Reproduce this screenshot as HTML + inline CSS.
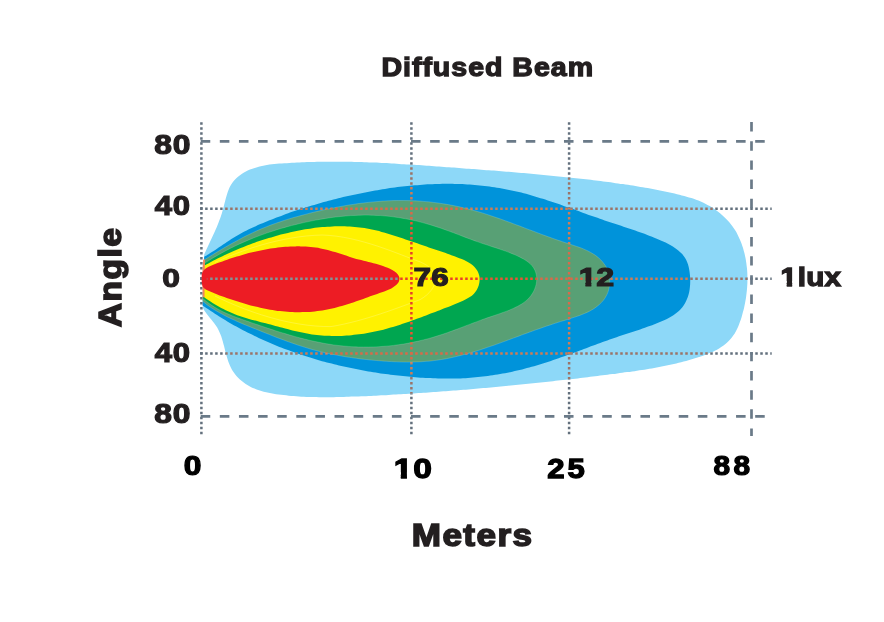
<!DOCTYPE html>
<html lang="en"><head><meta charset="utf-8"><title>Diffused Beam</title>
<style>html,body{margin:0;padding:0;background:#fff}body{width:884px;height:622px;overflow:hidden}svg{display:block}text{font-family:"Liberation Sans",Arial,Helvetica,sans-serif;font-weight:bold;font-size:100px;stroke-linejoin:miter;stroke-miterlimit:2.5}</style>
</head><body>
<svg width="884" height="622" viewBox="0 0 884 622">
<defs>
<clipPath id="k1"><path d="M-20 -120H41V-20H39.3V4H20.95V-20H-20ZM59.5 -120H3000V60H59.5Z"/></clipPath>
<clipPath id="k2"><path d="M-20 -120H41V-20H39.3V4H20.95V-20H-20ZM59.5 -120H3000V60H59.5Z"/></clipPath>
<clipPath id="k3"><path d="M-20 -120H41V-20H39.3V4H20.95V-20H-20ZM55.8 -120H3000V60H55.8Z"/></clipPath>
<path id="s-lb" d="M204.2 254.5C204.5 253.7 205.6 251.4 206.2 249.9C206.9 248.4 207.6 246.9 208.3 245.4C209.0 243.9 209.7 242.4 210.4 240.9C211.1 239.4 211.8 237.9 212.5 236.4C213.2 234.9 213.9 233.4 214.6 231.9C215.2 230.4 215.9 228.9 216.6 227.4C217.2 225.9 217.8 224.4 218.4 222.9C219.0 221.3 219.6 219.8 220.2 218.2C220.7 216.7 221.3 215.1 221.8 213.5C222.3 211.9 222.7 210.3 223.2 208.6C223.6 207.0 224.0 205.3 224.4 203.7C224.9 202.0 225.3 200.4 225.7 198.7C226.1 197.1 226.6 195.5 227.1 193.9C227.6 192.3 228.2 190.7 228.8 189.2C229.4 187.7 230.1 186.3 230.9 184.9C231.7 183.5 232.6 182.2 233.7 180.9C234.7 179.7 235.8 178.5 237.1 177.4C238.3 176.3 239.6 175.3 241.0 174.4C242.4 173.4 243.9 172.6 245.4 171.8C246.9 171.0 248.5 170.3 250.0 169.6C251.6 169.0 253.2 168.4 254.8 167.9C256.3 167.4 258.0 166.9 259.6 166.5C261.2 166.1 262.8 165.8 264.4 165.4C266.1 165.1 267.7 164.9 269.4 164.6C271.0 164.4 272.7 164.2 274.3 164.0C276.0 163.8 277.7 163.7 279.3 163.6C281.0 163.4 282.7 163.3 284.3 163.2C286.0 163.1 287.7 163.0 289.4 162.9C291.0 162.8 292.7 162.8 294.4 162.7C296.0 162.6 297.7 162.5 299.4 162.5C301.0 162.4 302.7 162.3 304.4 162.3C306.0 162.2 307.7 162.1 309.4 162.1C311.0 162.0 312.7 162.0 314.3 162.0C316.0 161.9 317.7 161.9 319.3 161.8C321.0 161.8 322.7 161.8 324.3 161.8C326.0 161.7 327.6 161.7 329.3 161.7C331.0 161.7 332.6 161.7 334.3 161.7C335.9 161.7 337.6 161.7 339.3 161.7C340.9 161.7 342.6 161.7 344.3 161.8C345.9 161.8 347.6 161.8 349.2 161.8C350.9 161.9 352.6 161.9 354.2 161.9C355.9 162.0 357.6 162.0 359.2 162.1C360.9 162.1 362.5 162.2 364.2 162.2C365.9 162.3 367.5 162.3 369.2 162.4C370.9 162.5 372.5 162.5 374.2 162.6C375.9 162.7 377.5 162.7 379.2 162.8C380.8 162.9 382.5 163.0 384.2 163.1C385.8 163.1 387.5 163.2 389.2 163.3C390.8 163.4 392.5 163.5 394.2 163.6C395.8 163.7 397.5 163.8 399.1 163.9C400.8 164.0 402.5 164.1 404.1 164.2C405.8 164.3 407.5 164.4 409.1 164.5C410.8 164.6 412.5 164.7 414.1 164.8C415.8 164.9 417.4 165.0 419.1 165.1C420.8 165.3 422.4 165.4 424.1 165.5C425.8 165.6 427.4 165.7 429.1 165.8C430.8 166.0 432.4 166.1 434.1 166.2C435.7 166.3 437.4 166.4 439.1 166.5C440.7 166.7 442.4 166.8 444.1 166.9C445.7 167.0 447.4 167.2 449.0 167.3C450.7 167.4 452.4 167.5 454.0 167.6C455.7 167.8 457.3 167.9 459.0 168.0C460.7 168.1 462.3 168.2 464.0 168.4C465.6 168.5 467.3 168.6 469.0 168.7C470.6 168.9 472.3 169.0 473.9 169.1C475.6 169.2 477.3 169.4 478.9 169.5C480.6 169.6 482.2 169.7 483.9 169.9C485.6 170.0 487.2 170.1 488.9 170.2C490.5 170.4 492.2 170.5 493.9 170.6C495.5 170.8 497.2 170.9 498.8 171.0C500.5 171.2 502.2 171.3 503.8 171.4C505.5 171.6 507.1 171.7 508.8 171.8C510.4 172.0 512.1 172.1 513.8 172.3C515.4 172.4 517.1 172.5 518.7 172.7C520.4 172.8 522.1 173.0 523.7 173.1C525.4 173.3 527.0 173.4 528.7 173.6C530.3 173.7 532.0 173.8 533.7 174.0C535.3 174.1 537.0 174.3 538.6 174.5C540.3 174.6 541.9 174.8 543.6 174.9C545.2 175.1 546.9 175.2 548.6 175.4C550.2 175.6 551.9 175.7 553.5 175.9C555.2 176.1 556.8 176.2 558.5 176.4C560.2 176.6 561.8 176.7 563.5 176.9C565.1 177.1 566.8 177.2 568.4 177.4C570.1 177.6 571.7 177.8 573.4 178.0C575.1 178.1 576.7 178.3 578.4 178.5C580.0 178.7 581.7 178.9 583.3 179.1C585.0 179.3 586.6 179.4 588.3 179.6C590.0 179.8 591.6 180.0 593.3 180.2C594.9 180.4 596.6 180.6 598.2 180.8C599.9 181.0 601.5 181.2 603.2 181.5C604.8 181.7 606.5 181.9 608.2 182.1C609.8 182.3 611.5 182.5 613.1 182.7C614.8 183.0 616.4 183.2 618.1 183.4C619.7 183.7 621.4 183.9 623.0 184.1C624.7 184.4 626.3 184.6 628.0 184.8C629.6 185.1 631.3 185.3 632.9 185.6C634.6 185.9 636.2 186.1 637.9 186.4C639.5 186.7 641.2 186.9 642.8 187.2C644.5 187.5 646.1 187.8 647.7 188.1C649.4 188.4 651.0 188.7 652.7 189.0C654.3 189.3 655.9 189.6 657.6 189.9C659.2 190.2 660.8 190.6 662.4 190.9C664.1 191.2 665.7 191.6 667.3 191.9C668.9 192.3 670.6 192.7 672.2 193.0C673.8 193.4 675.4 193.8 677.0 194.2C678.6 194.6 680.2 195.0 681.8 195.4C683.4 195.8 685.1 196.2 686.6 196.7C688.2 197.1 689.8 197.6 691.4 198.1C693.0 198.6 694.5 199.2 696.1 199.8C697.6 200.3 699.2 200.9 700.7 201.6C702.2 202.3 703.8 203.0 705.3 203.7C706.8 204.5 708.2 205.3 709.7 206.1C711.1 207.0 712.6 207.9 714.0 208.8C715.4 209.7 716.8 210.7 718.1 211.7C719.4 212.8 720.7 213.8 722.0 214.9C723.3 216.0 724.5 217.2 725.7 218.4C726.9 219.6 728.0 220.8 729.1 222.1C730.2 223.3 731.2 224.6 732.2 226.0C733.2 227.3 734.1 228.7 735.0 230.1C735.9 231.5 736.7 232.9 737.5 234.4C738.2 235.9 738.9 237.4 739.6 238.9C740.3 240.4 740.9 242.0 741.5 243.5C742.1 245.1 742.6 246.7 743.1 248.3C743.5 249.9 744.0 251.5 744.4 253.1C744.8 254.7 745.1 256.3 745.5 258.0C745.8 259.6 746.1 261.2 746.3 262.9C746.5 264.5 746.7 266.1 746.9 267.8C747.1 269.4 747.2 271.1 747.3 272.7C747.4 274.4 747.4 276.1 747.4 277.7C747.4 279.4 747.4 281.0 747.4 282.7C747.3 284.4 747.2 286.0 747.1 287.7C747.0 289.4 746.8 291.0 746.6 292.7C746.4 294.4 746.2 296.0 746.0 297.7C745.7 299.4 745.4 301.0 745.1 302.7C744.8 304.3 744.4 306.0 744.1 307.7C743.7 309.3 743.3 311.0 742.8 312.6C742.4 314.3 742.0 315.9 741.5 317.5C741.0 319.2 740.4 320.8 739.8 322.3C739.3 323.9 738.6 325.5 738.0 327.0C737.3 328.5 736.6 330.0 735.8 331.4C735.0 332.9 734.2 334.2 733.2 335.6C732.3 336.9 731.4 338.1 730.3 339.3C729.3 340.5 728.1 341.6 726.9 342.7C725.8 343.8 724.5 344.8 723.2 345.7C721.9 346.6 720.5 347.5 719.1 348.4C717.7 349.2 716.3 350.0 714.8 350.7C713.3 351.5 711.8 352.2 710.2 352.8C708.7 353.5 707.1 354.1 705.5 354.7C703.9 355.3 702.3 355.9 700.7 356.4C699.1 357.0 697.4 357.5 695.8 358.0C694.2 358.5 692.6 359.0 690.9 359.5C689.3 360.0 687.7 360.4 686.1 360.9C684.4 361.3 682.8 361.7 681.2 362.2C679.5 362.6 677.9 363.0 676.3 363.4C674.7 363.8 673.0 364.1 671.4 364.5C669.8 364.9 668.1 365.2 666.5 365.6C664.9 365.9 663.2 366.2 661.6 366.6C660.0 366.9 658.3 367.2 656.7 367.5C655.1 367.8 653.4 368.1 651.8 368.4C650.1 368.6 648.5 368.9 646.9 369.2C645.2 369.5 643.6 369.7 642.0 370.0C640.3 370.2 638.7 370.5 637.0 370.7C635.4 371.0 633.8 371.2 632.1 371.4C630.5 371.7 628.8 371.9 627.2 372.1C625.5 372.3 623.9 372.6 622.3 372.8C620.6 373.0 619.0 373.2 617.3 373.4C615.7 373.7 614.0 373.9 612.4 374.1C610.7 374.3 609.1 374.5 607.5 374.7C605.8 374.9 604.2 375.1 602.5 375.3C600.9 375.5 599.2 375.7 597.6 376.0C595.9 376.2 594.3 376.4 592.6 376.6C591.0 376.8 589.3 377.0 587.7 377.2C586.0 377.4 584.4 377.6 582.7 377.8C581.1 378.0 579.4 378.2 577.8 378.4C576.1 378.5 574.5 378.7 572.8 378.9C571.2 379.1 569.5 379.3 567.8 379.5C566.2 379.7 564.5 379.9 562.9 380.1C561.2 380.3 559.6 380.5 557.9 380.6C556.3 380.8 554.6 381.0 553.0 381.2C551.3 381.4 549.6 381.6 548.0 381.7C546.3 381.9 544.7 382.1 543.0 382.3C541.4 382.4 539.7 382.6 538.0 382.8C536.4 383.0 534.7 383.1 533.1 383.3C531.4 383.5 529.8 383.7 528.1 383.8C526.4 384.0 524.8 384.2 523.1 384.3C521.5 384.5 519.8 384.7 518.1 384.8C516.5 385.0 514.8 385.2 513.2 385.3C511.5 385.5 509.8 385.6 508.2 385.8C506.5 386.0 504.9 386.1 503.2 386.3C501.5 386.4 499.9 386.6 498.2 386.7C496.6 386.9 494.9 387.1 493.2 387.2C491.6 387.4 489.9 387.5 488.2 387.7C486.6 387.8 484.9 388.0 483.3 388.1C481.6 388.2 479.9 388.4 478.3 388.5C476.6 388.7 475.0 388.8 473.3 389.0C471.6 389.1 470.0 389.2 468.3 389.4C466.6 389.5 465.0 389.6 463.3 389.8C461.7 389.9 460.0 390.1 458.3 390.2C456.7 390.3 455.0 390.4 453.3 390.6C451.7 390.7 450.0 390.8 448.4 391.0C446.7 391.1 445.0 391.2 443.4 391.3C441.7 391.5 440.0 391.6 438.4 391.7C436.7 391.8 435.1 391.9 433.4 392.1C431.7 392.2 430.1 392.3 428.4 392.4C426.7 392.5 425.1 392.6 423.4 392.8C421.8 392.9 420.1 393.0 418.4 393.1C416.8 393.2 415.1 393.3 413.5 393.4C411.8 393.5 410.1 393.6 408.5 393.7C406.8 393.8 405.2 393.9 403.5 394.0C401.8 394.1 400.2 394.2 398.5 394.3C396.8 394.4 395.2 394.5 393.5 394.6C391.9 394.7 390.2 394.8 388.5 394.9C386.9 395.0 385.2 395.1 383.6 395.2C381.9 395.3 380.2 395.3 378.6 395.4C376.9 395.5 375.3 395.6 373.6 395.7C372.0 395.8 370.3 395.9 368.6 395.9C367.0 396.0 365.3 396.1 363.7 396.2C362.0 396.2 360.4 396.3 358.7 396.4C357.0 396.5 355.4 396.5 353.7 396.6C352.1 396.7 350.4 396.7 348.8 396.8C347.1 396.8 345.4 396.9 343.8 396.9C342.1 397.0 340.5 397.0 338.8 397.1C337.1 397.1 335.5 397.1 333.8 397.2C332.2 397.2 330.5 397.2 328.8 397.2C327.2 397.2 325.5 397.2 323.9 397.2C322.2 397.2 320.5 397.2 318.9 397.2C317.2 397.2 315.5 397.1 313.9 397.1C312.2 397.1 310.5 397.0 308.9 396.9C307.2 396.9 305.5 396.8 303.8 396.7C302.2 396.6 300.5 396.6 298.8 396.4C297.1 396.3 295.5 396.2 293.8 396.1C292.1 396.0 290.4 395.8 288.7 395.7C287.1 395.5 285.4 395.3 283.7 395.1C282.0 395.0 280.3 394.8 278.6 394.5C277.0 394.3 275.3 394.1 273.6 393.8C271.9 393.5 270.3 393.2 268.6 392.8C267.0 392.5 265.4 392.1 263.7 391.7C262.1 391.3 260.5 390.8 259.0 390.3C257.4 389.7 255.9 389.2 254.4 388.5C252.9 387.9 251.4 387.2 249.9 386.4C248.5 385.7 247.1 384.8 245.7 383.9C244.4 383.0 243.0 382.1 241.8 381.0C240.5 380.0 239.3 378.9 238.1 377.7C237.0 376.5 235.9 375.3 234.9 374.0C233.9 372.7 233.0 371.3 232.1 369.9C231.3 368.5 230.6 367.0 229.9 365.5C229.2 364.0 228.7 362.5 228.1 360.9C227.6 359.4 227.1 357.8 226.6 356.1C226.2 354.5 225.8 352.9 225.3 351.3C224.9 349.6 224.5 348.0 224.1 346.3C223.7 344.7 223.2 343.0 222.8 341.4C222.3 339.8 221.8 338.2 221.3 336.6C220.7 335.1 220.1 333.5 219.4 332.0C218.8 330.5 218.0 329.0 217.2 327.6C216.3 326.2 215.4 324.9 214.4 323.5C213.4 322.2 212.3 320.9 211.3 319.6C210.3 318.3 209.2 317.0 208.2 315.7C207.1 314.4 206.1 313.0 205.2 311.7C204.3 310.3 203.1 308.1 202.7 307.4Z"/>
<clipPath id="c-lb"><use href="#s-lb"/></clipPath>
<path id="s-bl" d="M204.2 256.8C204.9 256.4 207.1 255.1 208.5 254.3C210.0 253.4 211.4 252.5 212.8 251.6C214.2 250.7 215.6 249.8 217.0 248.8C218.3 247.9 219.7 247.0 221.1 246.1C222.5 245.1 223.8 244.2 225.2 243.3C226.6 242.3 228.0 241.4 229.3 240.5C230.7 239.6 232.1 238.7 233.5 237.8C234.9 236.9 236.3 236.1 237.8 235.2C239.2 234.4 240.7 233.6 242.1 232.8C243.6 232.0 245.1 231.2 246.6 230.5C248.1 229.7 249.6 229.0 251.1 228.3C252.6 227.6 254.2 226.9 255.7 226.2C257.2 225.5 258.7 224.8 260.3 224.1C261.8 223.5 263.4 222.8 264.9 222.2C266.5 221.5 268.0 220.9 269.5 220.3C271.1 219.7 272.6 219.0 274.2 218.4C275.7 217.8 277.3 217.2 278.9 216.7C280.4 216.1 282.0 215.5 283.5 214.9C285.1 214.3 286.7 213.8 288.2 213.2C289.8 212.7 291.3 212.1 292.9 211.6C294.5 211.1 296.1 210.5 297.6 210.0C299.2 209.5 300.8 209.0 302.4 208.5C303.9 208.0 305.5 207.5 307.1 207.0C308.7 206.5 310.3 206.0 311.8 205.6C313.4 205.1 315.0 204.6 316.6 204.2C318.2 203.7 319.8 203.2 321.4 202.8C323.0 202.3 324.6 201.9 326.2 201.5C327.8 201.0 329.4 200.6 331.0 200.2C332.6 199.8 334.2 199.4 335.9 199.0C337.5 198.6 339.1 198.2 340.7 197.8C342.3 197.4 344.0 197.0 345.6 196.6C347.2 196.2 348.8 195.8 350.5 195.5C352.1 195.1 353.7 194.8 355.4 194.4C357.0 194.0 358.6 193.7 360.3 193.4C361.9 193.0 363.5 192.7 365.2 192.4C366.8 192.0 368.5 191.7 370.1 191.4C371.8 191.1 373.4 190.8 375.1 190.5C376.7 190.2 378.4 190.0 380.0 189.7C381.7 189.4 383.3 189.1 385.0 188.9C386.6 188.6 388.3 188.4 389.9 188.1C391.6 187.9 393.3 187.7 394.9 187.5C396.6 187.2 398.2 187.0 399.9 186.8C401.6 186.6 403.2 186.4 404.9 186.2C406.6 186.1 408.2 185.9 409.9 185.7C411.5 185.6 413.2 185.4 414.9 185.3C416.5 185.1 418.2 185.0 419.9 184.9C421.5 184.7 423.2 184.6 424.9 184.5C426.5 184.4 428.2 184.3 429.9 184.3C431.5 184.2 433.2 184.1 434.9 184.0C436.5 184.0 438.2 183.9 439.9 183.9C441.5 183.9 443.2 183.8 444.8 183.8C446.5 183.8 448.2 183.8 449.8 183.8C451.5 183.8 453.2 183.9 454.8 183.9C456.5 183.9 458.1 184.0 459.8 184.1C461.5 184.1 463.1 184.2 464.8 184.3C466.4 184.4 468.1 184.5 469.8 184.6C471.4 184.7 473.1 184.8 474.7 184.9C476.4 185.1 478.0 185.2 479.7 185.4C481.3 185.6 483.0 185.7 484.6 185.9C486.3 186.1 487.9 186.3 489.5 186.5C491.2 186.8 492.8 187.0 494.5 187.2C496.1 187.5 497.7 187.8 499.4 188.0C501.0 188.3 502.6 188.6 504.3 188.9C505.9 189.2 507.5 189.5 509.1 189.9C510.8 190.2 512.4 190.5 514.0 190.9C515.6 191.3 517.2 191.7 518.9 192.0C520.5 192.4 522.1 192.8 523.7 193.3C525.3 193.7 526.9 194.1 528.5 194.6C530.1 195.0 531.7 195.5 533.3 195.9C534.9 196.4 536.5 196.9 538.1 197.4C539.7 197.8 541.3 198.3 542.9 198.8C544.5 199.4 546.1 199.9 547.7 200.4C549.3 200.9 550.9 201.4 552.5 202.0C554.1 202.5 555.6 203.0 557.2 203.6C558.8 204.1 560.4 204.7 562.0 205.2C563.6 205.8 565.1 206.4 566.7 206.9C568.3 207.5 569.9 208.0 571.5 208.6C573.1 209.2 574.6 209.7 576.2 210.3C577.8 210.9 579.4 211.4 580.9 212.0C582.5 212.6 584.1 213.2 585.7 213.7C587.3 214.3 588.8 214.9 590.4 215.4C592.0 216.0 593.6 216.5 595.1 217.1C596.7 217.7 598.3 218.2 599.9 218.8C601.5 219.3 603.0 219.9 604.6 220.4C606.2 220.9 607.8 221.5 609.3 222.0C610.9 222.5 612.5 223.0 614.1 223.6C615.7 224.1 617.2 224.6 618.8 225.1C620.4 225.6 621.9 226.2 623.5 226.7C625.1 227.2 626.7 227.7 628.2 228.2C629.8 228.8 631.3 229.3 632.9 229.8C634.5 230.3 636.0 230.9 637.6 231.4C639.1 231.9 640.6 232.5 642.2 233.0C643.7 233.6 645.3 234.1 646.8 234.7C648.3 235.3 649.9 235.9 651.4 236.5C653.0 237.1 654.5 237.7 656.1 238.4C657.7 239.0 659.3 239.7 660.8 240.4C662.4 241.1 664.0 241.8 665.6 242.6C667.2 243.3 668.7 244.1 670.2 245.0C671.7 245.8 673.2 246.7 674.6 247.7C676.0 248.6 677.4 249.6 678.6 250.7C679.9 251.8 681.1 252.9 682.2 254.1C683.2 255.3 684.2 256.6 685.1 258.0C685.9 259.4 686.6 260.8 687.2 262.3C687.8 263.8 688.3 265.4 688.7 267.0C689.1 268.6 689.3 270.3 689.6 271.9C689.8 273.6 690.0 275.3 690.1 276.9C690.2 278.6 690.3 280.3 690.2 282.0C690.2 283.6 690.1 285.3 689.9 287.0C689.8 288.6 689.5 290.3 689.2 291.9C688.8 293.6 688.4 295.2 687.9 296.7C687.3 298.3 686.7 299.9 686.0 301.3C685.3 302.8 684.5 304.2 683.6 305.5C682.7 306.8 681.7 308.1 680.6 309.2C679.5 310.4 678.3 311.5 677.0 312.5C675.7 313.6 674.4 314.5 673.0 315.4C671.6 316.3 670.1 317.2 668.7 318.0C667.2 318.8 665.6 319.5 664.1 320.2C662.5 321.0 660.9 321.6 659.3 322.3C657.7 323.0 656.1 323.6 654.5 324.2C652.9 324.8 651.3 325.4 649.7 326.0C648.1 326.6 646.5 327.1 644.9 327.7C643.3 328.3 641.7 328.8 640.1 329.4C638.6 329.9 637.0 330.4 635.4 331.0C633.8 331.5 632.3 332.0 630.7 332.5C629.1 333.0 627.6 333.6 626.0 334.1C624.4 334.6 622.9 335.1 621.3 335.6C619.8 336.1 618.2 336.7 616.6 337.2C615.1 337.7 613.5 338.3 612.0 338.8C610.4 339.3 608.9 339.9 607.3 340.5C605.7 341.0 604.2 341.6 602.6 342.1C601.1 342.7 599.5 343.3 597.9 343.8C596.4 344.4 594.8 345.0 593.3 345.6C591.7 346.1 590.1 346.7 588.6 347.3C587.0 347.9 585.5 348.5 583.9 349.0C582.3 349.6 580.8 350.2 579.2 350.8C577.6 351.4 576.1 352.0 574.5 352.5C572.9 353.1 571.4 353.7 569.8 354.3C568.2 354.8 566.7 355.4 565.1 356.0C563.5 356.5 561.9 357.1 560.4 357.6C558.8 358.2 557.2 358.8 555.6 359.3C554.0 359.8 552.5 360.4 550.9 360.9C549.3 361.4 547.7 362.0 546.1 362.5C544.5 363.0 542.9 363.5 541.3 364.0C539.7 364.5 538.1 365.0 536.5 365.4C534.9 365.9 533.3 366.4 531.7 366.8C530.1 367.3 528.5 367.7 526.9 368.1C525.3 368.6 523.7 369.0 522.1 369.4C520.4 369.8 518.8 370.2 517.2 370.6C515.6 370.9 514.0 371.3 512.3 371.7C510.7 372.0 509.1 372.3 507.5 372.7C505.8 373.0 504.2 373.3 502.6 373.6C500.9 373.9 499.3 374.2 497.6 374.5C496.0 374.7 494.4 375.0 492.7 375.3C491.1 375.5 489.4 375.7 487.8 376.0C486.1 376.2 484.5 376.4 482.8 376.6C481.2 376.8 479.5 377.0 477.9 377.1C476.2 377.3 474.6 377.4 472.9 377.6C471.3 377.7 469.6 377.8 467.9 377.9C466.3 378.1 464.6 378.2 463.0 378.2C461.3 378.3 459.6 378.4 458.0 378.4C456.3 378.5 454.6 378.5 453.0 378.6C451.3 378.6 449.6 378.6 448.0 378.6C446.3 378.6 444.6 378.6 443.0 378.6C441.3 378.5 439.6 378.5 438.0 378.5C436.3 378.4 434.6 378.4 433.0 378.3C431.3 378.2 429.6 378.2 428.0 378.1C426.3 378.0 424.6 377.9 423.0 377.8C421.3 377.7 419.6 377.6 418.0 377.4C416.3 377.3 414.6 377.2 413.0 377.0C411.3 376.9 409.7 376.7 408.0 376.6C406.3 376.4 404.7 376.3 403.0 376.1C401.3 375.9 399.7 375.7 398.0 375.6C396.4 375.4 394.7 375.2 393.1 375.0C391.4 374.8 389.7 374.6 388.1 374.3C386.4 374.1 384.8 373.9 383.1 373.7C381.5 373.4 379.8 373.2 378.2 372.9C376.5 372.7 374.9 372.4 373.2 372.2C371.6 371.9 370.0 371.6 368.3 371.4C366.7 371.1 365.0 370.8 363.4 370.5C361.8 370.2 360.1 369.9 358.5 369.6C356.8 369.3 355.2 368.9 353.6 368.6C351.9 368.3 350.3 367.9 348.7 367.6C347.1 367.2 345.4 366.9 343.8 366.5C342.2 366.1 340.6 365.8 339.0 365.4C337.3 365.0 335.7 364.6 334.1 364.2C332.5 363.8 330.9 363.4 329.3 363.0C327.7 362.6 326.1 362.1 324.4 361.7C322.8 361.3 321.2 360.8 319.6 360.4C318.0 359.9 316.4 359.5 314.8 359.0C313.3 358.5 311.7 358.0 310.1 357.5C308.5 357.1 306.9 356.6 305.3 356.0C303.7 355.5 302.1 355.0 300.6 354.5C299.0 354.0 297.4 353.4 295.8 352.9C294.3 352.3 292.7 351.8 291.1 351.2C289.6 350.6 288.0 350.1 286.4 349.5C284.9 348.9 283.3 348.3 281.8 347.7C280.2 347.1 278.7 346.5 277.1 345.9C275.6 345.2 274.0 344.6 272.5 344.0C271.0 343.3 269.4 342.7 267.9 342.0C266.4 341.3 264.8 340.7 263.3 340.0C261.8 339.3 260.3 338.6 258.7 337.9C257.2 337.2 255.7 336.5 254.2 335.8C252.7 335.0 251.2 334.3 249.7 333.6C248.2 332.8 246.7 332.1 245.2 331.3C243.8 330.5 242.3 329.8 240.8 329.0C239.3 328.2 237.9 327.4 236.4 326.6C234.9 325.8 233.5 325.0 232.0 324.2C230.6 323.3 229.1 322.5 227.7 321.7C226.3 320.8 224.8 320.0 223.4 319.1C222.0 318.2 220.6 317.4 219.2 316.5C217.7 315.6 216.3 314.7 214.9 313.8C213.6 312.9 212.2 312.0 210.8 311.1C209.4 310.1 208.0 309.2 206.7 308.3C205.3 307.3 203.3 305.9 202.6 305.4Z"/>
<clipPath id="c-bl"><use href="#s-bl"/></clipPath>
<path id="s-gg" d="M204.2 259.9C204.9 259.5 207.0 258.2 208.4 257.3C209.9 256.4 211.3 255.5 212.7 254.7C214.1 253.8 215.6 252.9 217.0 252.1C218.4 251.2 219.9 250.4 221.3 249.5C222.7 248.7 224.2 247.8 225.6 247.0C227.1 246.2 228.6 245.3 230.0 244.5C231.5 243.7 232.9 242.9 234.4 242.1C235.9 241.3 237.3 240.5 238.8 239.7C240.3 238.9 241.8 238.1 243.3 237.3C244.8 236.6 246.3 235.8 247.8 235.1C249.3 234.4 250.8 233.6 252.3 232.9C253.8 232.2 255.3 231.5 256.8 230.8C258.4 230.1 259.9 229.5 261.4 228.8C263.0 228.2 264.5 227.5 266.1 226.9C267.6 226.3 269.2 225.7 270.7 225.1C272.3 224.5 273.9 224.0 275.4 223.4C277.0 222.8 278.6 222.3 280.2 221.8C281.7 221.2 283.3 220.7 284.9 220.2C286.5 219.7 288.1 219.2 289.7 218.7C291.3 218.3 292.9 217.8 294.5 217.3C296.1 216.9 297.7 216.4 299.3 216.0C300.9 215.5 302.6 215.1 304.2 214.7C305.8 214.3 307.4 213.8 309.0 213.4C310.7 213.0 312.3 212.6 313.9 212.2C315.5 211.8 317.2 211.4 318.8 211.1C320.4 210.7 322.0 210.3 323.7 209.9C325.3 209.6 326.9 209.2 328.6 208.9C330.2 208.5 331.9 208.2 333.5 207.9C335.1 207.5 336.8 207.2 338.4 206.9C340.1 206.6 341.7 206.3 343.3 206.0C345.0 205.7 346.6 205.4 348.3 205.1C349.9 204.9 351.6 204.6 353.2 204.4C354.9 204.1 356.5 203.9 358.2 203.6C359.8 203.4 361.5 203.2 363.2 203.0C364.8 202.8 366.5 202.6 368.1 202.4C369.8 202.2 371.5 202.1 373.1 201.9C374.8 201.7 376.4 201.6 378.1 201.5C379.8 201.3 381.4 201.2 383.1 201.1C384.8 201.0 386.4 200.9 388.1 200.8C389.8 200.8 391.4 200.7 393.1 200.6C394.8 200.6 396.4 200.6 398.1 200.5C399.8 200.5 401.5 200.5 403.1 200.5C404.8 200.5 406.5 200.6 408.1 200.6C409.8 200.6 411.5 200.7 413.2 200.8C414.8 200.8 416.5 200.9 418.2 201.0C419.9 201.1 421.5 201.3 423.2 201.4C424.9 201.5 426.6 201.7 428.2 201.8C429.9 202.0 431.6 202.2 433.2 202.4C434.9 202.6 436.6 202.8 438.2 203.0C439.9 203.3 441.6 203.5 443.2 203.8C444.9 204.0 446.5 204.3 448.2 204.6C449.8 204.9 451.5 205.2 453.1 205.5C454.7 205.9 456.4 206.2 458.0 206.5C459.6 206.9 461.3 207.3 462.9 207.7C464.5 208.1 466.1 208.5 467.7 208.9C469.3 209.3 470.9 209.7 472.5 210.2C474.1 210.6 475.7 211.0 477.3 211.5C478.9 212.0 480.5 212.5 482.1 212.9C483.7 213.4 485.3 213.9 486.9 214.4C488.4 214.9 490.0 215.5 491.6 216.0C493.2 216.5 494.7 217.0 496.3 217.6C497.9 218.1 499.4 218.7 501.0 219.2C502.6 219.8 504.2 220.3 505.7 220.9C507.3 221.5 508.9 222.0 510.4 222.6C512.0 223.2 513.5 223.8 515.1 224.4C516.7 224.9 518.2 225.5 519.8 226.1C521.4 226.7 522.9 227.3 524.5 227.9C526.1 228.5 527.6 229.1 529.2 229.7C530.8 230.3 532.3 230.8 533.9 231.4C535.5 232.0 537.0 232.6 538.6 233.2C540.2 233.8 541.8 234.4 543.3 235.0C544.9 235.5 546.5 236.1 548.1 236.7C549.7 237.3 551.2 237.8 552.8 238.4C554.4 239.0 556.0 239.5 557.6 240.1C559.2 240.6 560.8 241.2 562.4 241.7C564.0 242.3 565.6 242.8 567.2 243.3C568.9 243.9 570.5 244.4 572.1 244.9C573.7 245.4 575.3 245.9 576.9 246.5C578.5 247.1 580.1 247.6 581.7 248.2C583.2 248.8 584.8 249.5 586.3 250.2C587.8 250.9 589.3 251.6 590.8 252.5C592.3 253.3 593.7 254.2 595.1 255.1C596.4 256.1 597.8 257.1 599.0 258.2C600.3 259.4 601.5 260.5 602.5 261.8C603.6 263.1 604.6 264.4 605.5 265.8C606.3 267.2 607.1 268.7 607.7 270.3C608.3 271.8 608.7 273.4 609.1 275.1C609.4 276.7 609.6 278.4 609.7 280.1C609.8 281.7 609.7 283.4 609.5 285.1C609.3 286.7 609.0 288.4 608.6 290.0C608.2 291.6 607.6 293.2 606.9 294.6C606.2 296.1 605.4 297.5 604.5 298.8C603.5 300.2 602.5 301.4 601.3 302.6C600.2 303.8 598.9 304.9 597.6 305.9C596.3 307.0 595.0 307.9 593.5 308.9C592.1 309.8 590.6 310.6 589.1 311.4C587.6 312.2 586.0 312.9 584.4 313.5C582.9 314.2 581.3 314.8 579.7 315.4C578.1 316.0 576.4 316.5 574.8 317.1C573.2 317.6 571.6 318.1 570.0 318.6C568.4 319.2 566.8 319.7 565.2 320.2C563.6 320.7 562.0 321.2 560.4 321.6C558.8 322.1 557.3 322.6 555.7 323.1C554.1 323.6 552.5 324.2 550.9 324.7C549.4 325.2 547.8 325.7 546.2 326.2C544.7 326.8 543.1 327.3 541.5 327.9C539.9 328.4 538.4 328.9 536.8 329.5C535.2 330.1 533.7 330.6 532.1 331.2C530.5 331.8 529.0 332.3 527.4 332.9C525.8 333.5 524.3 334.0 522.7 334.6C521.1 335.2 519.6 335.8 518.0 336.4C516.5 336.9 514.9 337.5 513.3 338.1C511.8 338.7 510.2 339.3 508.6 339.8C507.0 340.4 505.5 341.0 503.9 341.6C502.3 342.1 500.8 342.7 499.2 343.3C497.6 343.8 496.0 344.4 494.5 345.0C492.9 345.5 491.3 346.1 489.7 346.6C488.1 347.2 486.5 347.7 484.9 348.2C483.4 348.7 481.8 349.3 480.2 349.8C478.6 350.3 477.0 350.8 475.4 351.3C473.8 351.8 472.2 352.3 470.6 352.7C469.0 353.2 467.4 353.7 465.7 354.1C464.1 354.5 462.5 355.0 460.9 355.4C459.3 355.8 457.7 356.2 456.0 356.6C454.4 357.0 452.8 357.3 451.2 357.7C449.5 358.0 447.9 358.3 446.3 358.7C444.6 359.0 443.0 359.3 441.4 359.5C439.7 359.8 438.1 360.0 436.4 360.3C434.8 360.5 433.1 360.7 431.5 360.9C429.8 361.1 428.2 361.2 426.5 361.3C424.8 361.5 423.2 361.6 421.5 361.7C419.8 361.8 418.2 361.9 416.5 361.9C414.8 362.0 413.2 362.0 411.5 362.0C409.8 362.1 408.1 362.1 406.5 362.1C404.8 362.0 403.1 362.0 401.4 362.0C399.8 361.9 398.1 361.9 396.4 361.8C394.7 361.8 393.1 361.7 391.4 361.6C389.7 361.5 388.0 361.4 386.4 361.3C384.7 361.2 383.0 361.1 381.3 360.9C379.7 360.8 378.0 360.7 376.3 360.5C374.6 360.4 373.0 360.2 371.3 360.1C369.6 359.9 368.0 359.7 366.3 359.5C364.7 359.4 363.0 359.2 361.3 359.0C359.7 358.8 358.0 358.6 356.4 358.3C354.7 358.1 353.0 357.9 351.4 357.6C349.7 357.4 348.1 357.1 346.4 356.9C344.8 356.6 343.2 356.3 341.5 356.0C339.9 355.7 338.2 355.4 336.6 355.1C335.0 354.8 333.3 354.5 331.7 354.2C330.1 353.8 328.4 353.5 326.8 353.1C325.2 352.7 323.6 352.4 321.9 352.0C320.3 351.6 318.7 351.2 317.1 350.8C315.5 350.3 313.9 349.9 312.3 349.5C310.7 349.0 309.1 348.6 307.5 348.1C305.9 347.6 304.3 347.1 302.7 346.6C301.1 346.1 299.5 345.6 297.9 345.1C296.3 344.5 294.8 344.0 293.2 343.4C291.6 342.9 290.0 342.3 288.5 341.8C286.9 341.2 285.3 340.6 283.7 340.0C282.2 339.5 280.6 338.9 279.0 338.3C277.5 337.7 275.9 337.1 274.3 336.5C272.8 335.9 271.2 335.2 269.7 334.6C268.1 334.0 266.5 333.4 265.0 332.8C263.4 332.2 261.9 331.5 260.3 330.9C258.8 330.3 257.2 329.7 255.6 329.0C254.1 328.4 252.5 327.8 251.0 327.2C249.4 326.6 247.9 325.9 246.3 325.3C244.8 324.7 243.2 324.0 241.7 323.4C240.2 322.7 238.6 322.1 237.1 321.4C235.6 320.7 234.1 320.0 232.5 319.3C231.0 318.6 229.5 317.9 228.0 317.2C226.5 316.4 225.1 315.7 223.6 314.9C222.1 314.1 220.7 313.3 219.2 312.5C217.8 311.7 216.3 310.9 214.9 310.0C213.5 309.1 212.1 308.2 210.7 307.3C209.3 306.3 208.0 305.4 206.6 304.4C205.3 303.4 203.3 301.8 202.6 301.3Z"/>
<clipPath id="c-gg"><use href="#s-gg"/></clipPath>
<path id="s-gr" d="M204.5 263.3C205.2 262.8 207.3 261.5 208.8 260.6C210.2 259.7 211.6 258.8 213.0 257.9C214.5 257.1 215.9 256.2 217.4 255.4C218.8 254.5 220.3 253.7 221.8 252.9C223.2 252.1 224.7 251.3 226.2 250.5C227.6 249.8 229.1 249.0 230.6 248.2C232.1 247.5 233.6 246.8 235.1 246.0C236.6 245.3 238.1 244.6 239.6 243.9C241.1 243.2 242.7 242.5 244.2 241.9C245.7 241.2 247.2 240.6 248.8 239.9C250.3 239.3 251.8 238.6 253.4 238.0C254.9 237.4 256.5 236.8 258.0 236.2C259.6 235.6 261.2 235.1 262.7 234.5C264.3 233.9 265.9 233.4 267.4 232.8C269.0 232.3 270.6 231.8 272.2 231.3C273.8 230.7 275.3 230.2 276.9 229.7C278.5 229.3 280.1 228.8 281.7 228.3C283.3 227.8 284.9 227.4 286.6 226.9C288.2 226.5 289.8 226.1 291.4 225.6C293.0 225.2 294.6 224.8 296.3 224.4C297.9 224.0 299.5 223.6 301.1 223.2C302.8 222.8 304.4 222.5 306.1 222.1C307.7 221.8 309.3 221.4 311.0 221.1C312.6 220.7 314.3 220.4 315.9 220.1C317.6 219.8 319.2 219.5 320.9 219.2C322.5 218.9 324.2 218.7 325.8 218.4C327.5 218.2 329.2 217.9 330.8 217.7C332.5 217.5 334.2 217.2 335.8 217.0C337.5 216.8 339.2 216.7 340.8 216.5C342.5 216.3 344.2 216.2 345.8 216.0C347.5 215.9 349.2 215.8 350.8 215.6C352.5 215.5 354.2 215.5 355.8 215.4C357.5 215.3 359.2 215.3 360.8 215.2C362.5 215.2 364.2 215.2 365.8 215.1C367.5 215.1 369.2 215.2 370.8 215.2C372.5 215.2 374.2 215.3 375.8 215.4C377.5 215.4 379.2 215.5 380.8 215.6C382.5 215.7 384.1 215.9 385.8 216.0C387.5 216.2 389.1 216.3 390.8 216.5C392.4 216.7 394.1 216.9 395.7 217.2C397.4 217.4 399.0 217.6 400.7 217.9C402.3 218.2 403.9 218.5 405.6 218.8C407.2 219.1 408.8 219.4 410.5 219.7C412.1 220.1 413.7 220.4 415.4 220.8C417.0 221.2 418.6 221.6 420.2 222.0C421.8 222.4 423.4 222.8 425.0 223.3C426.7 223.7 428.3 224.2 429.9 224.7C431.5 225.2 433.1 225.7 434.6 226.2C436.2 226.7 437.8 227.2 439.4 227.7C441.0 228.3 442.6 228.8 444.2 229.4C445.7 229.9 447.3 230.5 448.9 231.1C450.4 231.7 452.0 232.3 453.6 232.8C455.2 233.4 456.7 234.0 458.3 234.6C459.9 235.2 461.4 235.8 463.0 236.4C464.6 237.0 466.1 237.6 467.7 238.2C469.3 238.7 470.8 239.3 472.4 239.9C474.0 240.5 475.5 241.1 477.1 241.6C478.7 242.2 480.3 242.7 481.8 243.3C483.4 243.8 485.0 244.3 486.6 244.8C488.2 245.4 489.7 245.9 491.3 246.4C492.9 246.9 494.5 247.4 496.1 247.9C497.7 248.4 499.2 249.0 500.8 249.5C502.4 250.0 504.0 250.6 505.5 251.1C507.1 251.7 508.7 252.3 510.2 252.9C511.8 253.5 513.3 254.1 514.9 254.8C516.4 255.5 518.0 256.2 519.5 256.9C521.0 257.7 522.6 258.5 524.0 259.3C525.5 260.2 526.9 261.1 528.3 262.2C529.6 263.2 530.8 264.3 531.9 265.6C532.9 266.8 533.9 268.2 534.6 269.7C535.3 271.1 535.9 272.8 536.2 274.4C536.6 276.0 536.8 277.7 536.7 279.4C536.7 281.0 536.5 282.7 536.1 284.4C535.8 286.0 535.2 287.6 534.6 289.2C533.9 290.7 533.2 292.2 532.3 293.6C531.5 295.0 530.5 296.3 529.4 297.5C528.4 298.7 527.2 299.8 525.9 300.9C524.7 301.9 523.3 302.9 522.0 303.8C520.6 304.6 519.1 305.5 517.6 306.3C516.2 307.0 514.6 307.8 513.1 308.5C511.6 309.2 510.0 309.8 508.4 310.5C506.9 311.1 505.3 311.7 503.7 312.2C502.1 312.8 500.6 313.3 499.0 313.9C497.4 314.4 495.8 314.9 494.2 315.5C492.6 316.0 491.1 316.5 489.5 317.1C487.9 317.6 486.3 318.1 484.8 318.7C483.2 319.3 481.6 319.8 480.1 320.4C478.5 321.0 476.9 321.6 475.4 322.2C473.8 322.7 472.2 323.3 470.7 323.9C469.1 324.5 467.6 325.1 466.0 325.7C464.4 326.3 462.9 326.9 461.3 327.5C459.7 328.1 458.2 328.7 456.6 329.3C455.0 329.8 453.5 330.4 451.9 331.0C450.3 331.6 448.8 332.1 447.2 332.7C445.6 333.2 444.0 333.8 442.5 334.3C440.9 334.8 439.3 335.3 437.7 335.8C436.1 336.3 434.5 336.8 432.9 337.3C431.3 337.8 429.7 338.2 428.1 338.7C426.5 339.1 424.8 339.5 423.2 339.9C421.6 340.3 420.0 340.7 418.3 341.1C416.7 341.5 415.1 341.8 413.4 342.1C411.8 342.5 410.2 342.8 408.5 343.1C406.9 343.4 405.2 343.7 403.6 344.0C401.9 344.2 400.3 344.5 398.6 344.7C397.0 344.9 395.3 345.2 393.6 345.4C392.0 345.6 390.3 345.7 388.7 345.9C387.0 346.1 385.3 346.2 383.7 346.3C382.0 346.5 380.3 346.6 378.7 346.7C377.0 346.8 375.3 346.9 373.6 346.9C372.0 347.0 370.3 347.0 368.6 347.0C367.0 347.1 365.3 347.1 363.6 347.0C362.0 347.0 360.3 347.0 358.6 347.0C357.0 346.9 355.3 346.8 353.6 346.8C352.0 346.7 350.3 346.6 348.6 346.4C347.0 346.3 345.3 346.2 343.7 346.0C342.0 345.9 340.3 345.7 338.7 345.5C337.0 345.3 335.4 345.1 333.7 344.9C332.1 344.6 330.4 344.4 328.8 344.1C327.2 343.9 325.5 343.6 323.9 343.3C322.2 343.0 320.6 342.7 319.0 342.3C317.3 342.0 315.7 341.7 314.1 341.3C312.4 341.0 310.8 340.6 309.2 340.2C307.6 339.8 305.9 339.4 304.3 339.0C302.7 338.6 301.1 338.2 299.5 337.8C297.9 337.3 296.2 336.9 294.6 336.4C293.0 336.0 291.4 335.5 289.8 335.1C288.2 334.6 286.6 334.1 285.0 333.6C283.4 333.2 281.8 332.7 280.2 332.2C278.6 331.7 277.0 331.2 275.4 330.7C273.8 330.1 272.2 329.6 270.6 329.1C269.0 328.6 267.4 328.0 265.8 327.5C264.2 327.0 262.6 326.5 261.0 325.9C259.5 325.4 257.9 324.8 256.3 324.3C254.7 323.7 253.1 323.2 251.5 322.7C249.9 322.1 248.4 321.6 246.8 321.0C245.2 320.5 243.6 319.9 242.0 319.4C240.5 318.8 238.9 318.3 237.3 317.7C235.8 317.1 234.2 316.5 232.7 315.9C231.1 315.3 229.6 314.7 228.1 314.0C226.6 313.4 225.0 312.7 223.6 312.0C222.1 311.3 220.6 310.5 219.1 309.7C217.7 309.0 216.2 308.1 214.8 307.3C213.4 306.4 212.0 305.5 210.6 304.6C209.3 303.6 207.9 302.6 206.6 301.5C205.3 300.5 203.3 298.8 202.7 298.2Z"/>
<clipPath id="c-gr"><use href="#s-gr"/></clipPath>
<path id="s-ye" d="M204.8 265.3C205.5 264.9 207.7 263.7 209.2 262.9C210.6 262.1 212.1 261.4 213.6 260.6C215.0 259.8 216.5 259.1 218.0 258.3C219.5 257.6 221.0 256.9 222.5 256.2C224.0 255.4 225.5 254.7 227.0 254.0C228.5 253.3 230.0 252.7 231.5 252.0C233.0 251.3 234.5 250.6 236.1 250.0C237.6 249.3 239.1 248.7 240.7 248.1C242.2 247.5 243.7 246.8 245.3 246.2C246.8 245.6 248.4 245.0 249.9 244.5C251.5 243.9 253.0 243.3 254.6 242.8C256.2 242.2 257.7 241.7 259.3 241.1C260.9 240.6 262.4 240.1 264.0 239.6C265.6 239.1 267.2 238.6 268.8 238.1C270.4 237.6 272.0 237.1 273.6 236.7C275.1 236.2 276.7 235.8 278.4 235.3C280.0 234.9 281.6 234.5 283.2 234.1C284.8 233.7 286.4 233.3 288.0 232.9C289.6 232.5 291.3 232.1 292.9 231.8C294.5 231.4 296.2 231.1 297.8 230.7C299.4 230.4 301.1 230.1 302.7 229.8C304.3 229.5 306.0 229.2 307.6 229.0C309.2 228.7 310.9 228.5 312.5 228.2C314.2 228.0 315.8 227.8 317.5 227.6C319.1 227.4 320.8 227.3 322.4 227.1C324.1 227.0 325.7 226.8 327.4 226.7C329.0 226.6 330.7 226.5 332.3 226.4C334.0 226.4 335.6 226.3 337.3 226.3C339.0 226.3 340.6 226.3 342.3 226.3C343.9 226.3 345.6 226.4 347.2 226.5C348.9 226.5 350.5 226.6 352.2 226.7C353.8 226.9 355.4 227.0 357.1 227.2C358.7 227.4 360.4 227.6 362.0 227.8C363.7 228.0 365.3 228.3 366.9 228.6C368.6 228.9 370.2 229.2 371.8 229.5C373.4 229.9 375.1 230.3 376.7 230.6C378.3 231.0 379.9 231.4 381.6 231.9C383.2 232.3 384.8 232.7 386.4 233.2C388.0 233.7 389.6 234.2 391.2 234.7C392.8 235.1 394.4 235.7 396.0 236.2C397.6 236.7 399.2 237.2 400.8 237.7C402.4 238.3 403.9 238.8 405.5 239.4C407.1 239.9 408.7 240.4 410.2 241.0C411.8 241.5 413.4 242.1 414.9 242.6C416.5 243.2 418.0 243.7 419.6 244.3C421.1 244.8 422.7 245.3 424.2 245.8C425.8 246.4 427.3 246.9 428.8 247.4C430.4 247.9 431.9 248.5 433.5 249.0C435.0 249.5 436.5 250.0 438.1 250.6C439.6 251.1 441.2 251.6 442.7 252.1C444.3 252.7 445.8 253.2 447.4 253.8C448.9 254.3 450.5 254.9 452.1 255.5C453.7 256.0 455.3 256.6 456.9 257.2C458.5 257.8 460.1 258.4 461.7 259.1C463.3 259.8 464.9 260.4 466.4 261.2C467.9 262.0 469.4 262.8 470.7 263.8C472.1 264.7 473.4 265.8 474.5 267.0C475.6 268.2 476.7 269.5 477.5 271.0C478.2 272.4 478.9 274.0 479.2 275.5C479.6 277.1 479.7 278.8 479.6 280.5C479.5 282.1 479.2 283.8 478.7 285.4C478.2 287.0 477.5 288.5 476.7 290.0C475.9 291.4 474.8 292.7 473.7 293.9C472.5 295.1 471.2 296.1 469.8 297.1C468.4 298.0 466.9 298.9 465.4 299.6C463.9 300.4 462.2 301.1 460.7 301.8C459.1 302.5 457.5 303.2 455.9 303.8C454.3 304.4 452.7 305.0 451.2 305.7C449.6 306.3 448.1 306.9 446.6 307.5C445.1 308.1 443.5 308.6 442.0 309.2C440.5 309.8 439.0 310.4 437.5 311.0C436.0 311.6 434.5 312.2 432.9 312.8C431.4 313.4 429.9 313.9 428.3 314.5C426.8 315.1 425.3 315.7 423.7 316.3C422.2 316.9 420.6 317.5 419.1 318.1C417.5 318.7 416.0 319.2 414.4 319.8C412.8 320.4 411.3 320.9 409.7 321.5C408.1 322.1 406.5 322.6 405.0 323.1C403.4 323.7 401.8 324.2 400.2 324.7C398.6 325.2 397.0 325.7 395.4 326.2C393.8 326.7 392.2 327.2 390.6 327.6C389.0 328.1 387.4 328.5 385.8 328.9C384.2 329.4 382.6 329.8 381.0 330.2C379.3 330.6 377.7 330.9 376.1 331.3C374.5 331.6 372.8 332.0 371.2 332.3C369.6 332.6 367.9 332.9 366.3 333.2C364.7 333.5 363.0 333.7 361.4 334.0C359.8 334.2 358.1 334.4 356.5 334.6C354.8 334.8 353.2 335.0 351.5 335.2C349.9 335.3 348.2 335.5 346.6 335.6C345.0 335.7 343.3 335.8 341.7 335.9C340.0 335.9 338.4 336.0 336.7 336.0C335.1 336.0 333.4 336.0 331.8 336.0C330.1 335.9 328.5 335.9 326.8 335.8C325.2 335.7 323.5 335.6 321.9 335.5C320.2 335.4 318.6 335.2 316.9 335.0C315.3 334.8 313.7 334.6 312.0 334.4C310.4 334.1 308.7 333.9 307.1 333.6C305.5 333.3 303.8 333.0 302.2 332.6C300.5 332.3 298.9 331.9 297.3 331.5C295.7 331.2 294.0 330.8 292.4 330.4C290.8 330.0 289.1 329.5 287.5 329.1C285.9 328.7 284.3 328.3 282.7 327.8C281.0 327.4 279.4 327.0 277.8 326.5C276.2 326.1 274.6 325.7 273.0 325.2C271.4 324.8 269.8 324.4 268.2 324.0C266.6 323.6 265.0 323.2 263.4 322.8C261.8 322.4 260.2 322.0 258.6 321.5C257.0 321.1 255.4 320.7 253.8 320.3C252.2 319.9 250.6 319.4 249.0 319.0C247.5 318.5 245.9 318.0 244.3 317.5C242.7 317.0 241.2 316.5 239.6 316.0C238.0 315.4 236.5 314.8 234.9 314.2C233.4 313.6 231.8 313.0 230.3 312.3C228.8 311.6 227.2 310.9 225.7 310.2C224.2 309.5 222.7 308.7 221.2 308.0C219.8 307.2 218.3 306.4 216.9 305.6C215.4 304.7 214.0 303.9 212.6 303.0C211.2 302.1 209.8 301.2 208.5 300.3C207.1 299.3 205.2 297.9 204.5 297.4Z"/>
<clipPath id="c-ye"><use href="#s-ye"/></clipPath>
<path id="s-re" d="M201.7 278.4C201.7 276.7 201.6 274.9 202.0 273.4C202.5 272.0 203.3 270.8 204.3 269.7C205.3 268.6 206.7 267.8 208.1 267.0C209.5 266.2 211.2 265.6 212.7 264.9C214.3 264.3 216.0 263.7 217.6 263.1C219.2 262.5 220.8 261.9 222.4 261.4C224.0 260.8 225.6 260.3 227.2 259.7C228.8 259.2 230.4 258.6 232.0 258.1C233.6 257.6 235.2 257.1 236.8 256.6C238.4 256.1 239.9 255.7 241.5 255.2C243.1 254.7 244.7 254.3 246.3 253.8C247.9 253.4 249.5 253.0 251.1 252.6C252.7 252.2 254.3 251.8 255.9 251.4C257.5 251.1 259.1 250.7 260.7 250.4C262.3 250.1 263.9 249.7 265.6 249.4C267.2 249.2 268.8 248.9 270.5 248.6C272.1 248.4 273.8 248.1 275.4 247.9C277.1 247.7 278.7 247.5 280.4 247.3C282.1 247.1 283.7 247.0 285.4 246.8C287.1 246.7 288.8 246.6 290.5 246.5C292.2 246.4 293.8 246.4 295.5 246.4C297.2 246.3 298.9 246.3 300.6 246.4C302.3 246.4 304.0 246.5 305.6 246.6C307.3 246.7 309.0 246.8 310.6 247.0C312.3 247.1 314.0 247.3 315.6 247.6C317.3 247.8 318.9 248.1 320.6 248.4C322.2 248.7 323.8 249.0 325.4 249.4C327.0 249.8 328.6 250.2 330.2 250.7C331.8 251.1 333.4 251.6 335.0 252.1C336.6 252.5 338.1 253.0 339.7 253.6C341.3 254.1 342.9 254.6 344.4 255.1C346.0 255.6 347.6 256.2 349.2 256.7C350.8 257.2 352.3 257.7 353.9 258.2C355.5 258.6 357.1 259.1 358.7 259.6C360.4 260.0 362.0 260.4 363.6 260.8C365.2 261.2 366.9 261.6 368.5 262.0C370.2 262.4 371.8 262.8 373.4 263.2C375.0 263.6 376.7 264.0 378.3 264.5C379.9 264.9 381.5 265.4 383.0 265.9C384.6 266.5 386.2 267.1 387.7 267.7C389.2 268.4 390.7 269.1 392.2 269.9C393.6 270.7 395.1 271.6 396.3 272.7C397.5 273.9 398.8 275.5 399.2 277.0C399.7 278.5 399.4 280.3 398.8 281.7C398.2 283.2 396.8 284.5 395.5 285.6C394.3 286.8 392.8 287.6 391.3 288.4C389.8 289.2 388.2 289.8 386.6 290.4C385.1 291.1 383.4 291.6 381.9 292.2C380.3 292.8 378.7 293.3 377.2 293.9C375.6 294.5 374.1 295.0 372.5 295.6C371.0 296.2 369.4 296.7 367.9 297.3C366.4 297.8 364.8 298.4 363.3 298.9C361.7 299.5 360.2 300.0 358.6 300.6C357.1 301.1 355.5 301.7 353.9 302.2C352.3 302.7 350.7 303.2 349.1 303.7C347.6 304.2 345.9 304.7 344.3 305.2C342.7 305.7 341.1 306.2 339.5 306.6C337.9 307.1 336.2 307.5 334.6 307.9C333.0 308.3 331.3 308.7 329.7 309.0C328.1 309.4 326.4 309.7 324.8 310.0C323.1 310.3 321.5 310.6 319.8 310.8C318.2 311.0 316.5 311.3 314.8 311.4C313.2 311.6 311.5 311.7 309.9 311.9C308.2 312.0 306.5 312.1 304.9 312.1C303.2 312.2 301.6 312.2 299.9 312.2C298.2 312.2 296.6 312.2 294.9 312.2C293.3 312.1 291.6 312.0 289.9 312.0C288.3 311.9 286.6 311.7 285.0 311.6C283.3 311.4 281.6 311.3 280.0 311.1C278.3 310.9 276.7 310.7 275.0 310.4C273.4 310.2 271.7 309.9 270.1 309.7C268.5 309.4 266.8 309.1 265.2 308.8C263.5 308.4 261.9 308.1 260.3 307.7C258.7 307.4 257.0 307.0 255.4 306.6C253.8 306.2 252.2 305.8 250.6 305.4C249.0 305.0 247.4 304.5 245.8 304.1C244.2 303.6 242.6 303.1 241.0 302.6C239.4 302.1 237.8 301.6 236.2 301.1C234.6 300.6 233.0 300.1 231.5 299.5C229.9 299.0 228.3 298.4 226.7 297.9C225.1 297.3 223.6 296.7 222.0 296.2C220.4 295.6 218.9 295.0 217.3 294.4C215.7 293.8 214.1 293.2 212.6 292.5C211.0 291.9 209.3 291.4 207.9 290.6C206.4 289.9 204.9 289.2 203.9 288.1C202.9 287.0 202.4 285.5 202.0 283.9C201.6 282.3 201.7 280.2 201.7 278.4Z"/>
<clipPath id="c-re"><use href="#s-re"/></clipPath>
<g id="dots" fill="none" stroke="currentColor" stroke-width="2.5" stroke-dasharray="2.5 2.494">
<path d="M201.4 122.2V436"/>
<path d="M411.4 122.2V436"/>
<path d="M569.1 122.2V436"/>
<path d="M200.15 208.8H771.7" stroke-dasharray="2.5 2.501"/>
<path d="M200.15 278.85H771.7" stroke-dasharray="2.5 2.501"/>
<path d="M200.15 353.6H771.7" stroke-dasharray="2.5 2.501"/>
</g>
</defs>
<rect width="884" height="622" fill="#fff"/>
<use href="#dots" color="#63707d"/>
<g fill="none" stroke="#6a7a88" stroke-width="2.7" stroke-dasharray="9.55 9.57">
<path d="M200.7 141.4H765"/>
<path d="M200.7 416.4H765"/>
<path d="M751.5 122.1V436" stroke-dasharray="9.45 9.7"/>
</g>
<use href="#s-lb" fill="#8dd8f8"/>
<g clip-path="url(#c-lb)"><use href="#dots" color="#9b7468"/></g>
<use href="#s-bl" fill="#0093da"/>
<g clip-path="url(#c-bl)"><use href="#dots" color="#cf7c56"/></g>
<use href="#s-gg" fill="#58a075" stroke="#d8f0e0" stroke-opacity=".32" stroke-width=".6"/>
<g clip-path="url(#c-gg)"><use href="#dots" color="#d96a49"/></g>
<use href="#s-gr" fill="#00a650" stroke="#c8f5d8" stroke-opacity=".32" stroke-width=".6"/>
<g clip-path="url(#c-gr)"><use href="#dots" color="#ec5434"/></g>
<path d="M203.3 259.4C202.5 266 202.3 272 202.3 278.6C202.3 285 202.4 291 202.8 297.3H205V259.4Z" fill="#f2845f"/>
<use href="#s-ye" fill="#fff200"/>
<path d="M215 262.3C240 251 280 236 322 235C360 236 400 255 420 261.8C430 266 435.6 272 435.6 278.6C435.6 286 430 294 420 299.7C400 307 365 321 331 326.6C290 327 245 311 215 296" fill="none" stroke="#fff" stroke-opacity=".35" stroke-width=".6"/>
<g clip-path="url(#c-ye)"><use href="#dots" color="#e83e2a"/></g>
<use href="#s-re" fill="#ed1c24"/>
<path clip-path="url(#c-re)" d="M210.15 278.85H402" fill="none" stroke="#7e9698" stroke-width="2.5" stroke-dasharray="2.5 2.501"/>
<path d="M207.2 277.85V279.85" fill="none" stroke="#7e9698" stroke-opacity=".6" stroke-width=".7"/>
<text transform="matrix(0.2855 0 0 0.2549 381.3865 76.2627)" fill="#231f20" stroke="#231f20" stroke-width="5" letter-spacing="3.46">Diffused Beam</text>
<text transform="matrix(0.3177 0 0 0.2751 154.2433 153.506)" x="0 58.35" fill="#231f20" stroke="#231f20" stroke-width="4.5">80</text>
<text transform="matrix(0.31 0 0 0.2711 154.8425 214.8189)" x="0 57.76" fill="#231f20" stroke="#231f20" stroke-width="4.5">40</text>
<text transform="matrix(0.3173 0 0 0.2591 162.2447 287.2578)" fill="#231f20" stroke="#231f20" stroke-width="4.5">0</text>
<text transform="matrix(0.31 0 0 0.2738 154.8425 361.8103)" x="0 57.76" fill="#231f20" stroke="#231f20" stroke-width="4.5">40</text>
<text transform="matrix(0.3177 0 0 0.2764 154.2433 422.8017)" x="0 58.35" fill="#231f20" stroke="#231f20" stroke-width="4.5">80</text>
<text transform="matrix(0.3173 0 0 0.2738 183.7447 474.6103)" fill="#000" stroke="#000" stroke-width="4.5">0</text>
<text transform="matrix(0.3354 0 0 0.2804 393.7621 477.7887)" x="0 58.07" fill="#000" stroke="#000" stroke-width="4.5" clip-path="url(#k1)">10</text>
<text transform="matrix(0.3112 0 0 0.2804 547.3416 477.7887)" x="0 64.82" fill="#000" stroke="#000" stroke-width="4.5">25</text>
<text transform="matrix(0.2986 0 0 0.2724 713.4264 474.5146)" x="0 67.48" fill="#000" stroke="#000" stroke-width="4.5">88</text>
<text transform="matrix(0.3508 0 0 0.3132 411.7092 545.6169)" fill="#231f20" stroke="#231f20" stroke-width="5" letter-spacing="4.14">Meters</text>
<text transform="matrix(0.296 0 0 0.2631 780.525 286.3424)" x="0 57.97" fill="#231f20" stroke="#231f20" stroke-width="5" letter-spacing="0.8" clip-path="url(#k2)">1lux</text>
<text transform="matrix(0.3138 0 0 0.2631 413.568 286.3449)" x="0 56.14" fill="#231f20" stroke="#231f20" stroke-width="4.5">76</text>
<text transform="matrix(0.3221 0 0 0.2653 578.6549 286.403)" x="0 54.85" fill="#231f20" stroke="#231f20" stroke-width="4.5" clip-path="url(#k3)">12</text>
<text transform="matrix(0 -0.3364 0.3146 0 121.4136 327.2636)" fill="#231f20" stroke="#231f20" stroke-width="5" letter-spacing="4.4">Angle</text>
</svg>
</body></html>
